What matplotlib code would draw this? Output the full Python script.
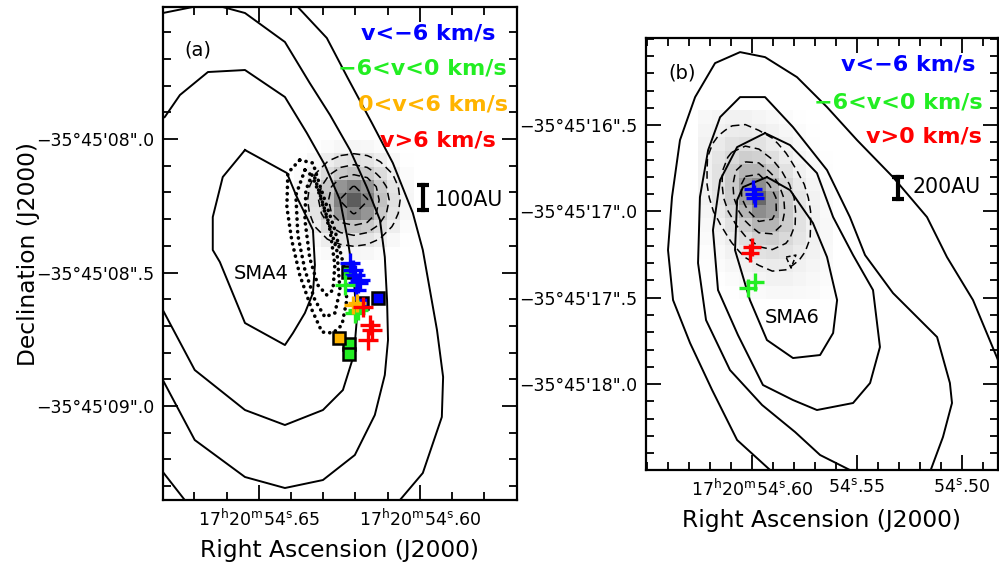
import numpy as np
import matplotlib
matplotlib.use('Agg')
import matplotlib.pyplot as plt
from matplotlib.ticker import MultipleLocator, FixedLocator, FixedFormatter

plt.rcParams['font.family'] = ['DejaVu Sans']

# ---------------- Panel (a) data (RA seconds of 17h20m, Dec arcsec of -35d45m) -------------
# solid continuum contours
a_c1r_ra = [54.6404, 54.6379, 54.6289, 54.6224, 54.6149, 54.6084, 54.6022, 54.5991, 54.5969, 54.5947, 54.5928, 54.5932, 54.5991, 54.6062, 54.6093]
a_c1r_de = [7.4607, 7.5056, 7.6217, 7.7716, 7.9401, 8.0899, 8.2771, 8.4157, 8.5655, 8.7153, 8.8913, 9.0411, 9.2508, 9.3520, 9.3969]
a_c1l_ra = [54.6839, 54.6730, 54.6699]
a_c1l_de = [9.1834, 9.3520, 9.3969]
a_c2_ra = [54.6839, 54.6798, 54.6705, 54.6652, 54.6612, 54.6543, 54.6419, 54.6342, 54.6279, 54.6217, 54.6165, 54.6124, 54.6109, 54.6102, 54.6099, 54.6109, 54.6140, 54.6202, 54.6301, 54.6419, 54.6543, 54.6699, 54.6798, 54.6839]
a_c2_de = [7.5431, 7.5281, 7.5056, 7.4944, 7.5056, 7.5281, 7.6367, 7.7903, 7.9101, 8.0412, 8.1798, 8.3033, 8.4419, 8.6029, 8.7527, 8.8838, 9.0336, 9.1834, 9.2771, 9.3070, 9.2658, 9.1272, 8.9025, 8.8202]
a_c3_ra = [54.6839, 54.6792, 54.6745, 54.6658, 54.6543, 54.6419, 54.6351, 54.6295, 54.6248, 54.6224, 54.6205, 54.6196, 54.6205, 54.6239, 54.6301, 54.6419, 54.6543, 54.6699, 54.6798, 54.6839]
a_c3_de = [7.9476, 7.9176, 7.8352, 7.7491, 7.7416, 7.8427, 7.9775, 8.0974, 8.2284, 8.3782, 8.5280, 8.6778, 8.8089, 8.9400, 9.0149, 9.0711, 9.0149, 8.8651, 8.6404, 8.5655]
a_c4_ra = [54.6543, 54.6413, 54.6382, 54.6332, 54.6326, 54.6332, 54.6357, 54.6394, 54.6419, 54.6543, 54.6621, 54.6643, 54.6643, 54.6612, 54.6543]
a_c4_de = [8.0412, 8.1273, 8.2172, 8.3408, 8.4719, 8.5767, 8.6516, 8.7265, 8.7715, 8.6891, 8.4606, 8.4157, 8.2921, 8.1423, 8.0412]
# dotted contours
a_d1_ra = [54.6373, 54.6332, 54.6311, 54.6264, 54.6233, 54.6227, 54.6242, 54.6270, 54.6304, 54.6335, 54.6373, 54.6398, 54.6413, 54.6410, 54.6373]
a_d1_de = [8.0786, 8.0899, 8.1723, 8.3408, 8.4906, 8.6029, 8.6966, 8.7265, 8.7228, 8.6404, 8.5093, 8.3782, 8.2547, 8.1273, 8.0786]
a_d2_ra = [54.6357, 54.6326, 54.6295, 54.6258, 54.6248, 54.6264, 54.6295, 54.6326, 54.6357, 54.6379, 54.6385, 54.6357]
a_d2_de = [8.1161, 8.1461, 8.2659, 8.4157, 8.5655, 8.6516, 8.6666, 8.6029, 8.4906, 8.3595, 8.2097, 8.1161]
a_d3_ra = [54.6335, 54.6311, 54.6279, 54.6264, 54.6270, 54.6289, 54.6317, 54.6342, 54.6357, 54.6354, 54.6335]
a_d3_de = [8.1348, 8.2097, 8.3408, 8.4719, 8.5655, 8.5842, 8.5468, 8.4457, 8.3033, 8.1910, 8.1348]
# grey image (extent and pixel values)
a_img_ra = [54.6391, 54.6019]
a_img_de = [8.0037, 8.4531]
a_img = [
    [0.00, 0.02, 0.05, 0.09, 0.11, 0.09, 0.05, 0.02, 0.00],
    [0.02, 0.08, 0.19, 0.27, 0.30, 0.27, 0.19, 0.08, 0.02],
    [0.05, 0.19, 0.33, 0.45, 0.50, 0.45, 0.33, 0.19, 0.05],
    [0.09, 0.27, 0.45, 0.70, 0.80, 0.70, 0.45, 0.27, 0.09],
    [0.11, 0.30, 0.50, 0.80, 1.00, 0.80, 0.50, 0.30, 0.11],
    [0.09, 0.27, 0.45, 0.70, 0.80, 0.70, 0.45, 0.27, 0.09],
    [0.06, 0.20, 0.34, 0.45, 0.50, 0.45, 0.33, 0.19, 0.05],
    [0.03, 0.09, 0.20, 0.27, 0.30, 0.27, 0.19, 0.08, 0.02],
    [0.01, 0.03, 0.06, 0.09, 0.11, 0.09, 0.05, 0.02, 0.00],
]
a_levels = [0.21, 0.37, 0.53, 0.79]
# maser spots
a_blue_ra = [54.6217, 54.6208, 54.6202, 54.6186, 54.6193, 54.6199]
a_blue_de = [8.4644, 8.4906, 8.5093, 8.5280, 8.5393, 8.5655]
a_green_ra = [54.6233, 54.6193, 54.6202]
a_green_de = [8.5468, 8.6404, 8.6516]
a_orange_ra = [54.6196, 54.6208]
a_orange_de = [8.6142, 8.6217]
a_red_ra = [54.6155, 54.6149, 54.6161, 54.6177]
a_red_de = [8.6966, 8.7153, 8.7527, 8.6292]
a_sq_blue_ra = [54.6130, 54.6180]
a_sq_blue_de = [8.5955, 8.6142]
a_sq_green_ra = [54.6224, 54.6220, 54.6220]
a_sq_green_de = [8.4981, 8.7677, 8.8052]
a_sq_orange_ra = [54.6252]
a_sq_orange_de = [8.7453]
a_bar_ra = [54.5991, 54.5991]
a_bar_de = [8.1723, 8.2659]

# ---------------- Panel (b) data -------------
b_s1_ra = [54.5867, 54.5914, 54.6071, 54.6190, 54.6295, 54.6376, 54.6400, 54.6381, 54.6343, 54.6271, 54.6176, 54.6057, 54.5938, 54.5786, 54.5643, 54.5500, 54.5329, 54.5167, 54.5072, 54.4948, 54.4829, 54.4772]
b_s1_de = [18.5555, 18.4976, 18.3239, 18.0344, 17.7622, 17.5133, 17.2238, 16.9169, 16.5869, 16.3379, 16.1410, 16.0773, 16.1063, 16.2221, 16.3958, 16.5869, 16.8011, 17.0327, 17.2643, 17.5133, 17.8607, 18.0344]
b_s2_ra = [54.5167, 54.5091, 54.5048, 54.5058, 54.5119, 54.5329, 54.5462, 54.5534, 54.5643, 54.5805, 54.5938, 54.6057, 54.6152, 54.6209, 54.6248, 54.6257, 54.6219, 54.6105, 54.5952, 54.5795, 54.5676, 54.5534, 54.5486]
b_s2_de = [18.5555, 18.3065, 18.1096, 17.9938, 17.7275, 17.4727, 17.2527, 17.0327, 16.7606, 16.5116, 16.3379, 16.3379, 16.4537, 16.6448, 16.9169, 17.2990, 17.6291, 17.9186, 18.1212, 18.2776, 18.4107, 18.4976, 18.5555]
b_s3_ra = [54.5938, 54.5819, 54.5691, 54.5614, 54.5519, 54.5424, 54.5391, 54.5438, 54.5519, 54.5691, 54.5805, 54.5948, 54.6067, 54.6162, 54.6186, 54.6152, 54.6071, 54.5938]
b_s3_de = [16.5463, 16.6158, 16.7779, 17.0327, 17.2527, 17.4554, 17.7854, 17.9938, 18.1096, 18.1502, 18.0923, 18.0054, 17.7159, 17.4554, 17.1080, 16.8185, 16.6274, 16.5463]
b_s4_ra = [54.5929, 54.5819, 54.5710, 54.5643, 54.5595, 54.5614, 54.5676, 54.5805, 54.5929, 54.6010, 54.6081, 54.6071, 54.6043, 54.5929]
b_s4_de = [16.8011, 16.8764, 17.0674, 17.2643, 17.5133, 17.7043, 17.8317, 17.8491, 17.7449, 17.5133, 17.2238, 16.9343, 16.8590, 16.8011]
b_tri_ra = [54.5838, 54.5791, 54.5814, 54.5838]
b_tri_de = [17.2643, 17.2527, 17.3280, 17.2643]
b_img_ra = [54.6257, 54.5614]
b_img_de = [16.4132, 17.5075]
b_img = [
    [0.09, 0.13, 0.16, 0.16, 0.13, 0.09, 0.05, 0.02, 0.01, 0.00],
    [0.13, 0.18, 0.22, 0.23, 0.20, 0.16, 0.10, 0.05, 0.02, 0.00],
    [0.16, 0.23, 0.30, 0.33, 0.30, 0.23, 0.16, 0.08, 0.03, 0.01],
    [0.18, 0.28, 0.38, 0.45, 0.43, 0.33, 0.22, 0.13, 0.06, 0.02],
    [0.18, 0.30, 0.46, 0.60, 0.60, 0.46, 0.30, 0.18, 0.09, 0.03],
    [0.18, 0.30, 0.48, 0.72, 0.80, 0.60, 0.39, 0.24, 0.13, 0.06],
    [0.16, 0.28, 0.46, 0.72, 1.00, 0.72, 0.46, 0.28, 0.16, 0.07],
    [0.13, 0.24, 0.39, 0.60, 0.80, 0.72, 0.48, 0.30, 0.18, 0.08],
    [0.09, 0.18, 0.30, 0.46, 0.60, 0.60, 0.46, 0.30, 0.18, 0.09],
    [0.06, 0.13, 0.22, 0.33, 0.43, 0.45, 0.38, 0.28, 0.18, 0.09],
    [0.03, 0.08, 0.16, 0.23, 0.30, 0.33, 0.30, 0.23, 0.16, 0.08],
    [0.02, 0.05, 0.10, 0.16, 0.20, 0.23, 0.22, 0.18, 0.13, 0.07],
    [0.01, 0.02, 0.05, 0.09, 0.13, 0.16, 0.16, 0.13, 0.09, 0.05],
    [0.00, 0.01, 0.02, 0.05, 0.07, 0.09, 0.09, 0.08, 0.06, 0.03],
]
b_levels = [0.2, 0.35, 0.5, 0.65]
b_blue_ra = [54.5995, 54.5990, 54.5986]
b_blue_de = [16.8706, 16.8995, 16.9227]
b_red_ra = [54.6000, 54.6010]
b_red_de = [17.2064, 17.2411]
b_green_ra = [54.6019, 54.5986]
b_green_de = [17.4438, 17.4090]
b_bar_ra = [54.5305, 54.5305]
b_bar_de = [16.801, 16.928]

a_xticks = [54.65, 54.60]
a_xlabels = [r'17$^{\mathrm{h}}$20$^{\mathrm{m}}$54$^{\mathrm{s}}$.65',
             r'17$^{\mathrm{h}}$20$^{\mathrm{m}}$54$^{\mathrm{s}}$.60']
a_yticks = [8.0, 8.5, 9.0]
a_ylabels = ['\u221235\u00b045\'08".0', '\u221235\u00b045\'08".5', '\u221235\u00b045\'09".0']
b_xticks = [54.60, 54.55, 54.50]
b_xlabels = [r'17$^{\mathrm{h}}$20$^{\mathrm{m}}$54$^{\mathrm{s}}$.60',
             r'54$^{\mathrm{s}}$.55', r'54$^{\mathrm{s}}$.50']
b_yticks = [16.5, 17.0, 17.5, 18.0]
b_ylabels = ['\u221235\u00b045\'16".5', '\u221235\u00b045\'17".0',
             '\u221235\u00b045\'17".5', '\u221235\u00b045\'18".0']

BLUE = '#0000ff'
GREEN = '#22ee22'
ORANGE = '#ffb400'
RED = '#ff0000'

fig = plt.figure(figsize=(9.99, 5.65), dpi=100)
axA = fig.add_axes([0.163, 0.115, 0.3544, 0.8726])
axB = fig.add_axes([0.6466, 0.168, 0.3524, 0.7646])


def grey(ax, ext_ra, ext_de, img, levels, vmax):
    z = np.array(img)
    ny, nx = z.shape
    xe = np.linspace(ext_ra[0], ext_ra[1], nx + 1)
    ye = np.linspace(ext_de[0], ext_de[1], ny + 1)
    ax.pcolormesh(xe, ye, z, cmap='Greys', vmin=0, vmax=vmax, shading='flat', zorder=1)
    xc = 0.5 * (xe[1:] + xe[:-1])
    yc = 0.5 * (ye[1:] + ye[:-1])
    ax.contour(xc, yc, z, levels=levels, colors='k', linewidths=1.1,
               linestyles=[(0, (5, 3))], zorder=3)


def solid(ax, ra, de):
    ax.plot(ra, de, color='k', lw=1.4, zorder=2)


def dotted(ax, ra, de):
    ax.plot(ra, de, color='k', lw=2.6, ls=(0, (0.05, 1.7)), dash_capstyle='round', zorder=2)


def crosses(ax, ra, de, color, ms=14):
    ax.plot(ra, de, '+', color=color, ms=ms, mew=2.4, ls='none', zorder=6)


def squares(ax, ra, de, color):
    ax.plot(ra, de, 's', mfc=color, mec='k', mew=1.8, ms=8, ls='none', zorder=5)


def style(ax, xlim, ylim, xt, xl, yt, yl):
    ax.set_xlim(*xlim)
    ax.set_ylim(*ylim)
    ax.xaxis.set_major_locator(FixedLocator(xt))
    ax.xaxis.set_major_formatter(FixedFormatter(xl))
    ax.yaxis.set_major_locator(FixedLocator(yt))
    ax.yaxis.set_major_formatter(FixedFormatter(yl))
    ax.xaxis.set_minor_locator(MultipleLocator(0.01))
    ax.yaxis.set_minor_locator(MultipleLocator(0.1))
    ax.tick_params(which='both', direction='in', top=True, right=True, width=1.3, labelsize=12.5)
    ax.tick_params(which='major', length=11, pad=6)
    ax.tick_params(which='minor', length=6)
    for s in ax.spines.values():
        s.set_linewidth(1.6)
    ax.set_xlabel('Right Ascension (J2000)', fontsize=16.8, labelpad=7)


# ---- panel a ----
grey(axA, a_img_ra, a_img_de, a_img, a_levels, 1.4)
solid(axA, a_c1r_ra, a_c1r_de)
solid(axA, a_c1l_ra, a_c1l_de)
solid(axA, a_c2_ra, a_c2_de)
solid(axA, a_c3_ra, a_c3_de)
solid(axA, a_c4_ra, a_c4_de)
dotted(axA, a_d1_ra, a_d1_de)
dotted(axA, a_d2_ra, a_d2_de)
dotted(axA, a_d3_ra, a_d3_de)
squares(axA, a_sq_blue_ra, a_sq_blue_de, BLUE)
squares(axA, a_sq_green_ra, a_sq_green_de, GREEN)
squares(axA, a_sq_orange_ra, a_sq_orange_de, ORANGE)
crosses(axA, a_blue_ra, a_blue_de, BLUE, 15)
crosses(axA, a_green_ra, a_green_de, GREEN, 14)
crosses(axA, a_orange_ra, a_orange_de, ORANGE, 13)
crosses(axA, a_red_ra, a_red_de, RED, 14)
axA.plot(a_bar_ra, a_bar_de, color='k', lw=3, marker='_', ms=9, mew=3, zorder=6)
style(axA, (54.6798, 54.5699), (9.352, 7.5056), a_xticks, a_xlabels, a_yticks, a_ylabels)
axA.set_ylabel('Declination (J2000)', fontsize=16.8, labelpad=-3)

tA = axA.transAxes
axA.text(0.099, 0.913, '(a)', transform=tA, fontsize=14, ha='center', va='center')
axA.text(0.938, 0.947, 'v<\u22126 km/s', transform=tA, fontsize=16, fontweight='bold', color=BLUE, ha='right', va='center')
axA.text(0.972, 0.876, '\u22126<v<0 km/s', transform=tA, fontsize=16, fontweight='bold', color=GREEN, ha='right', va='center')
axA.text(0.975, 0.803, '0<v<6 km/s', transform=tA, fontsize=16, fontweight='bold', color=ORANGE, ha='right', va='center')
axA.text(0.941, 0.730, 'v>6 km/s', transform=tA, fontsize=16, fontweight='bold', color=RED, ha='right', va='center')
axA.text(0.768, 0.609, '100AU', transform=tA, fontsize=14.8, ha='left', va='center')
axA.text(0.277, 0.460, 'SMA4', transform=tA, fontsize=14, ha='center', va='center')

# ---- panel b ----
grey(axB, b_img_ra, b_img_de, b_img, b_levels, 1.5)
axB.plot(b_tri_ra, b_tri_de, color='k', lw=1.1, ls=(0, (3, 2)), zorder=3)
solid(axB, b_s1_ra, b_s1_de)
solid(axB, b_s2_ra, b_s2_de)
solid(axB, b_s3_ra, b_s3_de)
solid(axB, b_s4_ra, b_s4_de)
crosses(axB, b_blue_ra, b_blue_de, BLUE, 13)
crosses(axB, b_red_ra, b_red_de, RED, 13)
crosses(axB, b_green_ra, b_green_de, GREEN, 13)
axB.plot(b_bar_ra, b_bar_de, color='k', lw=3, marker='_', ms=9, mew=3, zorder=6)
style(axB, (54.6505, 54.4829), (18.498, 15.996), b_xticks, b_xlabels, b_yticks, b_ylabels)

tB = axB.transAxes
axB.text(0.102, 0.919, '(b)', transform=tB, fontsize=14, ha='center', va='center')
axB.text(0.935, 0.940, 'v<\u22126 km/s', transform=tB, fontsize=16, fontweight='bold', color=BLUE, ha='right', va='center')
axB.text(0.957, 0.852, '\u22126<v<0 km/s', transform=tB, fontsize=16, fontweight='bold', color=GREEN, ha='right', va='center')
axB.text(0.955, 0.773, 'v>0 km/s', transform=tB, fontsize=16, fontweight='bold', color=RED, ha='right', va='center')
axB.text(0.756, 0.655, '200AU', transform=tB, fontsize=14.8, ha='left', va='center')
axB.text(0.415, 0.354, 'SMA6', transform=tB, fontsize=14, ha='center', va='center')

fig.savefig('out.png', dpi=100)
